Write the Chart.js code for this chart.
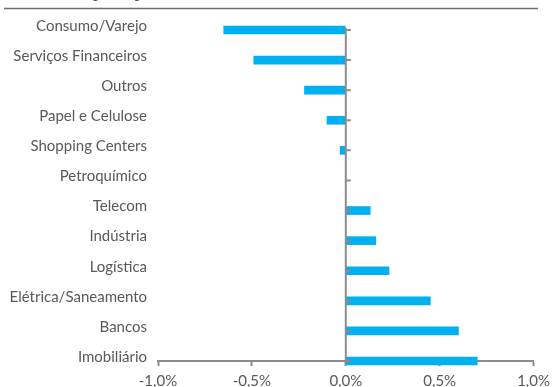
<!DOCTYPE html>
<html>
<head>
<meta charset="utf-8">
<script src="https://cdn.jsdelivr.net/npm/chart.js@4.4.1/dist/chart.umd.min.js"></script>
<style>
  html, body { margin: 0; padding: 0; background: #fff; }
  #wrap { width: 556px; height: 387px; }
</style>
</head>
<body>
<div id="wrap"><canvas id="chart"></canvas></div>
<script>
// setores e contribuição (%)
var sectors = ['Consumo/Varejo', 'Serviços Financeiros', 'Outros', 'Papel e Celulose',
  'Shopping Centers', 'Petroquímico', 'Telecom', 'Indústria', 'Logística',
  'Elétrica/Saneamento', 'Bancos', 'Imobiliário'];
var contribution = [-0.65, -0.49, -0.22, -0.10, -0.03, 0.0, 0.13, 0.16, 0.23, 0.45, 0.60, 0.70];
var xTicks = [-1.0, -0.5, 0.0, 0.5, 1.0];
var titleText = 'Contribuição por setor';

var axisGrey = '#8c8c8c';
var textGrey = '#595959';

function pct(v) {
  return v.toFixed(1).replace('.', ',') + '%';
}

// título (cortado no topo) e linha separadora
var headerPlugin = {
  id: 'header',
  beforeDraw: function(chart) {
    var ctx = chart.ctx;
    ctx.save();
    ctx.fillStyle = '#1F5C99';
    ctx.font = 'bold 22px "Open Sans"';
    ctx.textAlign = 'left';
    ctx.textBaseline = 'alphabetic';
    ctx.fillText(titleText, -14, -4);
    ctx.strokeStyle = '#6e6e6e';
    ctx.lineWidth = 1.5;
    ctx.beginPath();
    ctx.moveTo(4, 8.5);
    ctx.lineTo(538, 8.5);
    ctx.stroke();
    ctx.restore();
  }
};

// eixo vertical em zero com marcas nas categorias
var zeroAxisPlugin = {
  id: 'zeroAxis',
  afterDatasetsDraw: function(chart) {
    var ctx = chart.ctx;
    var x = chart.scales.x.getPixelForValue(0);
    var y = chart.scales.y;
    ctx.save();
    ctx.strokeStyle = axisGrey;
    ctx.lineWidth = 2;
    ctx.beginPath();
    ctx.moveTo(x, chart.chartArea.top - 2);
    ctx.lineTo(x, chart.chartArea.bottom);
    ctx.stroke();
    ctx.beginPath();
    for (var i = 0; i < sectors.length; i++) {
      var py = y.getPixelForValue(i);
      ctx.moveTo(x, py);
      ctx.lineTo(x + 5, py);
    }
    ctx.stroke();
    ctx.restore();
  }
};

new Chart(document.getElementById('chart'), {
  type: 'bar',
  data: {
    labels: sectors,
    datasets: [{
      data: contribution,
      backgroundColor: '#00B0F0',
      borderWidth: 0,
      barThickness: 8,
      clip: false
    }]
  },
  options: {
    indexAxis: 'y',
    responsive: true,
    maintainAspectRatio: false,
    animation: false,
    layout: { padding: { top: 30, right: 21, bottom: 0, left: 0 } },
    plugins: {
      legend: { display: false },
      tooltip: { enabled: false }
    },
    scales: {
      x: {
        min: -1.0,
        max: 1.0,
        afterBuildTicks: function(scale) {
          scale.ticks = xTicks.map(function(v) { return { value: v }; });
        },
        afterFit: function(scale) { scale.height = 26; },
        border: { display: true, color: axisGrey, width: 2 },
        grid: {
          drawOnChartArea: false,
          drawTicks: true,
          tickLength: 5,
          tickColor: axisGrey,
          tickWidth: 2
        },
        ticks: {
          color: textGrey,
          font: { family: 'Lato', size: 15 },
          padding: 6,
          maxRotation: 0,
          callback: function(v) { return pct(v); }
        }
      },
      y: {
        offset: false,
        afterFit: function(scale) { scale.width = 158; },
        border: { display: false },
        grid: { display: false, drawTicks: false },
        ticks: {
          color: textGrey,
          font: { family: 'Lato', size: 15 },
          padding: 11,
          labelOffset: -4
        }
      }
    }
  },
  plugins: [headerPlugin, zeroAxisPlugin]
});
</script>
</body>
</html>
